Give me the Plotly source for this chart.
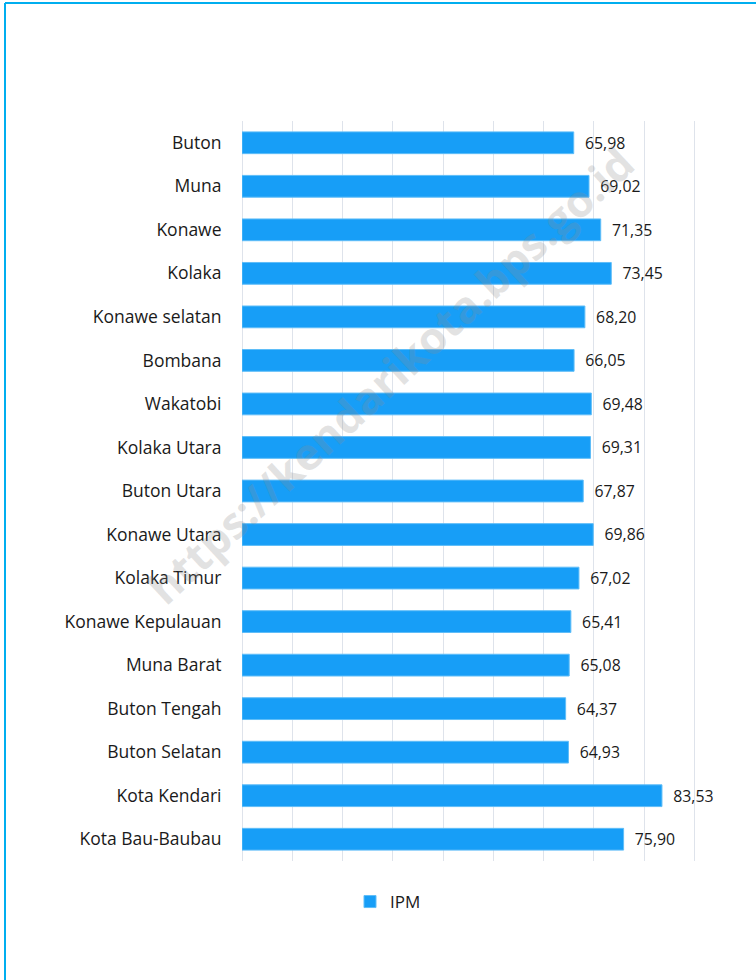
import plotly.graph_objects as go

categories = ["Buton", "Muna", "Konawe", "Kolaka", "Konawe selatan", "Bombana",
              "Wakatobi", "Kolaka Utara", "Buton Utara", "Konawe Utara",
              "Kolaka Timur", "Konawe Kepulauan", "Muna Barat", "Buton Tengah",
              "Buton Selatan", "Kota Kendari", "Kota Bau-Baubau"]
ipm = [65.98, 69.02, 71.35, 73.45, 68.20, 66.05, 69.48, 69.31, 67.87, 69.86,
       67.02, 65.41, 65.08, 64.37, 64.93, 83.53, 75.90]
series_name = "IPM"

FONT = "Open Sans"
W, H = 756, 980
L, R, T, B = 242, 59, 121, 119
pw = W - L - R
ph = H - T - B

fig = go.Figure()
fig.add_trace(go.Bar(
    x=ipm, y=categories, orientation="h", name=series_name,
    marker=dict(color="#179EF7", line=dict(color="#5FBDF8", width=1)),
    texttemplate="\u00a0\u00a0%{x:.2f}", textposition="outside",
    textfont=dict(family=FONT, size=16, color="#1a1a1a"),
    cliponaxis=False, width=0.5,
))

def px2x(p):
    return (p - L) / pw

def py2y(p):
    return 1 - (p - T) / ph

fig.update_layout(
    width=W, height=H,
    margin=dict(l=L, r=R, t=T, b=B),
    paper_bgcolor="white", plot_bgcolor="white",
    separators=",.",
    font=dict(family=FONT, size=16, color="#1a1a1a"),
    showlegend=True,
    legend=dict(orientation="h", x=px2x(350), y=py2y(884), xanchor="left", yanchor="top",
                font=dict(family=FONT, size=17, color="#1a1a1a")),
    xaxis=dict(range=[0, 90.5], dtick=10, showticklabels=False, showgrid=True,
               gridcolor="#DEE3EB", gridwidth=1, zeroline=True, zerolinecolor="#DEE3EB",
               zerolinewidth=1, showline=False, ticks=""),
    yaxis=dict(autorange="reversed", showgrid=False, ticks="outside", ticklen=16,
               tickcolor="rgba(0,0,0,0)", tickfont=dict(family=FONT, size=17.5, color="#1a1a1a")),
    shapes=[
        dict(type="line", xref="paper", yref="paper", x0=px2x(5), x1=px2x(770),
             y0=py2y(3), y1=py2y(3), line=dict(color="#00AEEF", width=2)),
        dict(type="line", xref="paper", yref="paper", x0=px2x(5), x1=px2x(5),
             y0=py2y(3), y1=py2y(990), line=dict(color="#00AEEF", width=2)),
    ],
    annotations=[
        dict(text="<b>https://kendarikota.bps.go.id</b>", xref="paper", yref="paper",
             x=px2x(390), y=py2y(375), xanchor="center", yanchor="middle",
             showarrow=False, textangle=-43,
             font=dict(family=FONT, size=44, color="rgba(140,140,140,0.25)")),
    ],
)

fig.write_html("out.html", config={"displayModeBar": False},
               post_script="document.body.style.margin='0';")
